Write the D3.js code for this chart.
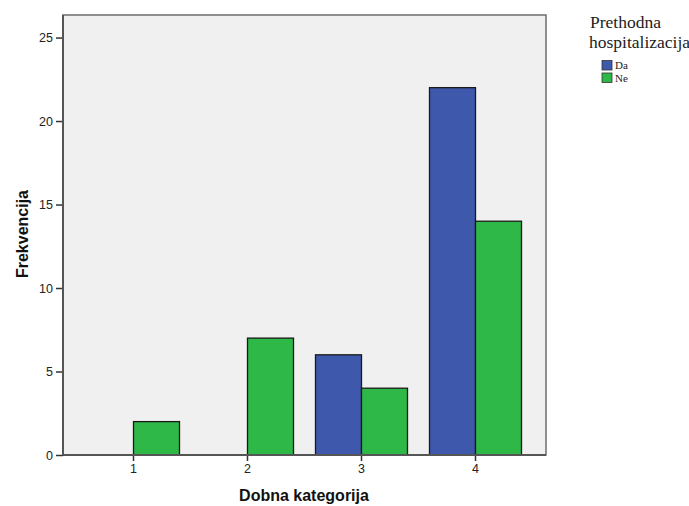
<!DOCTYPE html>
<html><head><meta charset="utf-8">
<script src="https://cdn.jsdelivr.net/npm/d3@7"></script>
<style>body{margin:0;background:#fff}svg{display:block}</style>
</head><body>
<script>
const categories = ["1","2","3","4"];
const seriesNames = ["Da","Ne"];
const daValues = [0,0,6,22];
const neValues = [2,7,4,14];
const yTicks = [0,5,10,15,20,25];
const colors = ["#3E58AC","#2EB848"];

const W=689,H=506;
const svg=d3.select("body").append("svg").attr("width",W).attr("height",H);
const pL=63,pR=546,pT=15,pB=455;
const y=d3.scaleLinear().domain([0,26.35]).range([pB,pT]);
const x=d3.scaleBand().domain(categories).range([pL+13.5,pR-13.5]).padding(0);
const sub=d3.scaleBand().domain(seriesNames).range([x.bandwidth()/2-46,x.bandwidth()/2+46]);

svg.append("rect").attr("x",pL).attr("y",pT).attr("width",pR-pL).attr("height",pB-pT)
  .attr("fill","#F0F0F0").attr("stroke","#6e6e6e").attr("stroke-width",1.5);

const data=categories.map((c,i)=>({c,vals:[daValues[i],neValues[i]]}));
const g=svg.append("g");
data.forEach(d=>{
  d.vals.forEach((v,j)=>{
    if(v<=0) return;
    g.append("rect").attr("x",x(d.c)+sub(seriesNames[j])).attr("y",y(v))
     .attr("width",sub.bandwidth()).attr("height",y(0)-y(v))
     .attr("fill",colors[j]).attr("stroke","#1a1a1a").attr("stroke-width",1.3);
  });
});

const yAxis=svg.append("g").attr("transform",`translate(${pL},0)`)
  .call(d3.axisLeft(y).tickValues(yTicks).tickSize(7).tickPadding(3));
yAxis.select(".domain").remove();
yAxis.selectAll("line").attr("stroke","#333").attr("stroke-width",1.5);
yAxis.selectAll("text").attr("font-family","Arial, Liberation Sans, sans-serif").attr("font-size",12.5).attr("fill","#222");

const xAxis=svg.append("g").attr("transform",`translate(0,${pB})`)
  .call(d3.axisBottom(x).tickSize(6).tickPadding(3));
xAxis.select(".domain").remove();
xAxis.selectAll("line").attr("stroke","#333").attr("stroke-width",1.5);
xAxis.selectAll("text").attr("font-family","Arial, Liberation Sans, sans-serif").attr("font-size",12.5).attr("fill","#222");

svg.append("line").attr("x1",pL).attr("x2",pR).attr("y1",pB).attr("y2",pB).attr("stroke","#555").attr("stroke-width",2);
svg.append("line").attr("x1",pL).attr("x2",pL).attr("y1",pT).attr("y2",pB).attr("stroke","#555").attr("stroke-width",2);

svg.append("text").attr("x",304).attr("y",501).attr("text-anchor","middle")
  .attr("font-family","Arial, Liberation Sans, sans-serif").attr("font-weight","bold").attr("font-size",16).attr("fill","#111")
  .text("Dobna kategorija");
svg.append("text").attr("transform",`translate(28,234) rotate(-90)`).attr("text-anchor","middle")
  .attr("font-family","Arial, Liberation Sans, sans-serif").attr("font-weight","bold").attr("font-size",16).attr("fill","#111")
  .text("Frekvencija");

const lg=svg.append("g");
const serif="Liberation Serif, Times New Roman, serif";
lg.append("text").attr("x",590).attr("y",27.5).attr("font-family",serif).attr("font-size",17.5).attr("fill","#222").text("Prethodna");
lg.append("text").attr("x",589).attr("y",48).attr("font-family",serif).attr("font-size",17.5).attr("fill","#222").text("hospitalizacija");
seriesNames.forEach((s,i)=>{
  lg.append("rect").attr("x",602).attr("y",60.5+i*12.5).attr("width",10).attr("height",9.5).attr("fill",colors[i]).attr("stroke","#333").attr("stroke-width",0.8);
  lg.append("text").attr("x",615).attr("y",69+i*12.5).attr("font-family",serif).attr("font-size",11).attr("fill","#222").text(s);
});
</script>
</body></html>
